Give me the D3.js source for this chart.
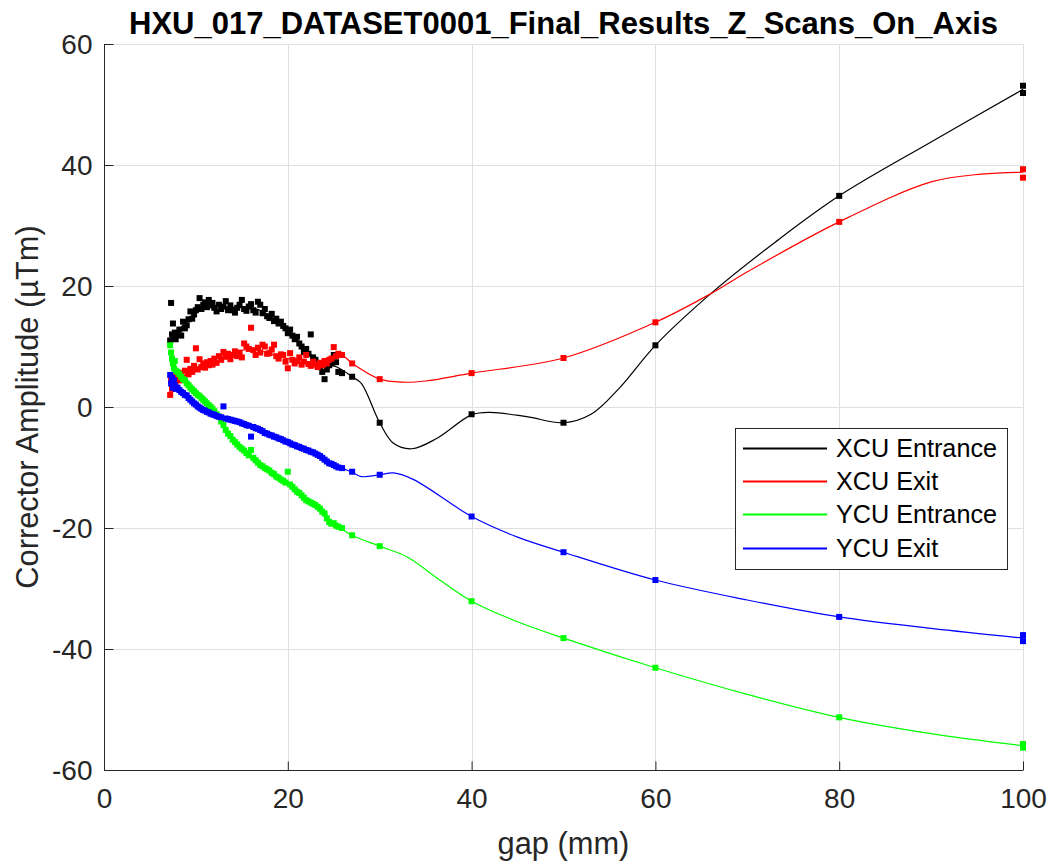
<!DOCTYPE html>
<html><head><meta charset="utf-8">
<script src="https://cdn.jsdelivr.net/npm/d3@7"></script>
<style>body{margin:0;background:#fff;} svg{display:block;font-family:"Liberation Sans",Arial,Helvetica,sans-serif;}</style>
</head><body><svg id="c" width="1053" height="865"></svg>
<script>
const title = "HXU_017_DATASET0001_Final_Results_Z_Scans_On_Axis";
const xLabel = "gap (mm)";
const yLabel = "Corrector Amplitude (µTm)";
const seriesNames = ["XCU Entrance", "XCU Exit", "YCU Entrance", "YCU Exit"];
const seriesColors = ["#000000", "#ff0000", "#00ff00", "#0000ff"];
const xTicks = [0, 20, 40, 60, 80, 100];
const yTicks = [-60, -40, -20, 0, 20, 40, 60];

const gaps = [7.2,7.3,7.4,7.5,7.6,7.7,7.8,
  8.0,8.2,8.4,8.6,8.8,9.0,9.2,9.4,9.6,9.8,10.0,10.2,10.4,10.6,10.8,11.0,11.2,11.4,11.6,11.8,12.0,
  12.25,12.5,12.75,13.0,13.25,13.5,13.75,14.0,14.25,14.5,14.75,15.0,15.25,15.5,15.75,16.0,16.25,16.5,16.75,17.0,17.25,17.5,17.75,18.0,18.25,18.5,18.75,19.0,19.25,19.5,19.75,20.0,20.25,20.5,20.75,21.0,21.25,21.5,21.75,22.0,22.25,22.5,22.75,23.0,23.25,23.5,23.75,24.0,24.25,24.5,24.75,25.0,25.25,25.5,
  25.9,27.0,30,40,50,60,80,100,100];

const xcuEntrance = [11.0,17.2,12.0,13.8,11.5,12.3,11.2,
  12.0,12.8,11.8,14.1,13.0,13.5,14.5,15.8,14.6,15.3,16.0,16.5,18.0,16.2,16.9,17.3,16.5,17.7,16.8,17.2,16.4,
  15.8,16.9,16.2,16.6,17.5,16.0,16.8,16.0,15.6,16.4,16.9,17.7,16.2,15.9,16.6,17.0,16.0,15.6,17.4,16.9,15.5,16.2,15.0,14.7,15.4,14.2,14.6,13.8,14.1,13.4,13.0,12.2,12.8,11.8,11.2,11.6,10.5,10.0,9.1,9.6,8.8,12.0,8.2,7.8,7.2,6.6,5.8,4.6,6.2,6.9,7.2,8.6,7.4,5.8,
  5.6,5.0,-2.6,-1.2,-2.6,10.2,34.9,53.1,51.9];

const xcuExit = [2.0,4.5,3.0,3.8,5.2,4.2,3.5,
  5.0,4.4,5.6,4.8,6.0,7.8,5.4,6.3,5.8,6.8,9.7,6.2,7.9,6.6,7.2,6.5,7.4,6.9,7.6,7.0,8.0,
  7.3,8.4,7.8,9.1,8.3,8.8,7.9,8.6,9.2,8.4,9.0,8.2,10.5,10.0,9.6,13.1,9.4,8.6,9.8,9.0,10.3,10.0,8.8,8.9,9.5,10.3,8.4,8.0,8.7,8.6,7.5,6.4,8.9,7.8,7.2,7.6,8.2,7.0,7.5,8.6,7.1,6.8,7.5,7.0,6.6,7.3,6.9,7.6,7.2,7.8,8.0,9.9,8.4,8.8,
  8.6,7.2,4.6,5.6,8.1,14.0,30.6,39.3,37.9];

const ycuEntrance = [10.2,9.0,8.0,7.2,6.4,7.6,6.0,
  5.8,5.4,5.0,4.6,4.4,3.9,3.6,3.2,2.9,2.6,2.3,2.0,1.8,1.5,1.2,0.9,0.6,0.3,0.0,-0.3,-0.7,
  -1.2,-1.6,-2.4,-3.0,-3.8,-4.4,-4.8,-5.4,-5.8,-6.2,-6.6,-6.9,-7.2,-7.6,-8.0,-7.1,-8.4,-8.8,-9.2,-9.6,-9.8,-10.1,-10.3,-10.5,-10.9,-11.1,-11.5,-11.7,-12.0,-12.2,-12.5,-10.7,-12.8,-13.2,-13.6,-14.0,-14.2,-14.6,-15.0,-15.4,-15.6,-15.8,-16.0,-16.2,-16.5,-16.8,-17.3,-17.6,-18.4,-19.0,-19.3,-19.2,-19.6,-19.8,
  -20.0,-21.2,-23.0,-32.1,-38.2,-43.1,-51.3,-55.7,-56.3];

const ycuExit = [5.3,3.9,4.8,3.2,4.4,3.6,3.0,
  3.2,2.8,2.5,2.3,2.0,1.9,1.5,1.2,0.9,0.6,0.4,0.1,-0.1,-0.3,-0.5,-0.6,-0.8,-0.9,-1.1,-1.2,-1.3,
  -1.5,-1.6,-1.7,0.1,-1.9,-2.0,-2.1,-2.2,-2.3,-2.4,-2.5,-2.7,-2.8,-3.0,-3.1,-4.9,-3.3,-3.5,-3.6,-3.8,-4.0,-4.3,-4.4,-4.6,-4.7,-4.9,-5.0,-5.2,-5.3,-5.5,-5.7,-5.8,-6.0,-6.2,-6.3,-6.5,-6.6,-6.8,-6.9,-7.1,-7.2,-7.4,-7.5,-7.7,-7.9,-8.1,-8.4,-8.7,-9.0,-9.3,-9.4,-9.6,-9.8,-10.0,
  -10.1,-10.7,-11.2,-18.1,-24.0,-28.6,-34.7,-37.7,-38.7];

// smoothed fit curves (knots)
const fitXcuEntrance = [[7.2,11.5],[9,14],[11,16.5],[14,16.5],[17,16],[20,12.8],[23,8],[25.5,6.5],[27,5],[28,3.9],[30,-2.6],[31.5,-6],[33.5,-6.9],[36.2,-5.2],[40,-1.3],[42,-0.9],[46,-1.6],[50,-2.6],[53,-1.2],[56,3],[60,10.2],[66,18.7],[73,27.2],[80,34.9],[90,43.8],[100,52.5]];
const fitXcuExit = [[7.2,3.5],[10,6.5],[13,8.5],[16,9.5],[20,8],[24,7.3],[25.9,8.5],[27,7.2],[30,4.6],[32.5,4.1],[35,4.3],[40,5.6],[50,8.1],[60,14.0],[66,18.7],[70.3,22.6],[80,30.6],[90,37.2],[95.5,38.5],[100,38.8]];
const fitYcuEntrance = [[7.2,9.5],[8,6],[9,4],[10.5,1.8],[12,-0.7],[13.5,-4.2],[15,-6.9],[17.5,-10.1],[20,-12.6],[22.5,-15.8],[25,-19.2],[27,-21.2],[30,-23],[33,-24.8],[36,-28],[40,-32.1],[45,-35.5],[50,-38.2],[60,-43.1],[70,-47.5],[80,-51.3],[90,-54],[100,-56]];
const fitYcuExit = [[7.2,4.5],[9,2],[11,-0.6],[13,-1.8],[16,-3.2],[19,-5.2],[22,-7.1],[24,-8.7],[25.9,-10.1],[27,-10.8],[28,-11.5],[30,-11.2],[31.5,-10.9],[33.7,-12],[40,-18.1],[45,-21.5],[50,-24],[60,-28.6],[70,-31.9],[80,-34.7],[90,-36.6],[100,-38.2]];

const seriesValues = [xcuEntrance, xcuExit, ycuEntrance, ycuExit];
const seriesFits = [fitXcuEntrance, fitXcuExit, fitYcuEntrance, fitYcuExit];

const svg = d3.select("#c");
const x = d3.scaleLinear().domain([0, 100]).range([104, 1023]);
const y = d3.scaleLinear().domain([-60, 60]).range([770, 44]);
const axisColor = "#262626";
const gridColor = "#dfdfdf";

// grid
const g = svg.append("g");
g.selectAll(".gx").data(xTicks).join("line")
  .attr("x1", d => Math.round(x(d)) + 0.5).attr("x2", d => Math.round(x(d)) + 0.5)
  .attr("y1", y(-60)).attr("y2", y(60)).attr("stroke", gridColor).attr("stroke-width", 1);
g.selectAll(".gy").data(yTicks).join("line")
  .attr("y1", d => Math.round(y(d)) + 0.5).attr("y2", d => Math.round(y(d)) + 0.5)
  .attr("x1", x(0)).attr("x2", x(100)).attr("stroke", gridColor).attr("stroke-width", 1);

// axes
const fmt = d => String(d);
const xAxis = d3.axisBottom(x).tickValues(xTicks).tickSize(-9).tickPadding(17).tickFormat(fmt);
const yAxis = d3.axisLeft(y).tickValues(yTicks).tickSize(-9).tickPadding(12).tickFormat(fmt);
const gx = svg.append("g").attr("transform", `translate(0,${Math.round(y(-60)) + 0.5})`).call(xAxis);
const gy = svg.append("g").attr("transform", `translate(${Math.round(x(0)) + 0.5},0)`).call(yAxis);
[gx, gy].forEach(a => {
  a.select(".domain").remove();
  a.selectAll("line").attr("stroke", axisColor);
  a.selectAll("text").attr("fill", axisColor).style("font-size", "28px").style("font-family", '"Liberation Sans", Arial, sans-serif');
});
gy.selectAll(".tick text").attr("dy", "0.35em");
gx.selectAll(".tick text").attr("dy", "0.72em");
svg.append("line").attr("x1", Math.round(x(0)) + 0.5).attr("x2", Math.round(x(0)) + 0.5)
  .attr("y1", y(60)).attr("y2", Math.round(y(-60)) + 0.5).attr("stroke", axisColor);
svg.append("line").attr("x1", Math.round(x(0)) + 0.5).attr("x2", x(100))
  .attr("y1", Math.round(y(-60)) + 0.5).attr("y2", Math.round(y(-60)) + 0.5).attr("stroke", axisColor);

// data
const line = d3.line().x(d => x(d[0])).y(d => y(d[1])).curve(d3.curveCatmullRom.alpha(0.5));
const ms = 6;
seriesValues.forEach((vals, i) => {
  const pts = gaps.map((gp, j) => [gp, vals[j]]);
  svg.append("g").selectAll("rect").data(pts).join("rect")
    .attr("x", d => x(d[0]) - ms / 2).attr("y", d => y(d[1]) - ms / 2)
    .attr("width", ms).attr("height", ms).attr("fill", seriesColors[i]);
  svg.append("path").datum(seriesFits[i]).attr("d", line)
    .attr("fill", "none").attr("stroke", seriesColors[i]).attr("stroke-width", 1.2);
});

// title & labels
svg.append("text").attr("x", (x(0) + x(100)) / 2).attr("y", 34).attr("text-anchor", "middle")
  .attr("font-weight", "bold").attr("font-size", "31px").attr("fill", "#000").text(title);
svg.append("text").attr("x", (x(0) + x(100)) / 2).attr("y", 854).attr("text-anchor", "middle")
  .attr("font-size", "30.8px").attr("fill", axisColor).text(xLabel);
svg.append("text").attr("transform", `translate(38,${(y(-60) + y(60)) / 2}) rotate(-90)`).attr("text-anchor", "middle")
  .attr("font-size", "30.8px").attr("fill", axisColor).text(yLabel);

// legend
const lg = svg.append("g");
lg.append("rect").attr("x", 735.5).attr("y", 428.5).attr("width", 272).attr("height", 141)
  .attr("fill", "#fff").attr("stroke", axisColor).attr("stroke-width", 1);
const rowY = [448.5, 481.5, 514.5, 548.5];
seriesNames.forEach((nm, i) => {
  lg.append("rect").attr("x", 743).attr("y", rowY[i] - 1).attr("width", 84).attr("height", 2)
    .attr("fill", seriesColors[i]);
  lg.append("text").attr("x", 836).attr("y", rowY[i]).attr("dy", "0.35em")
    .attr("font-size", "25.2px").attr("fill", "#000").text(nm);
});
</script></body></html>
